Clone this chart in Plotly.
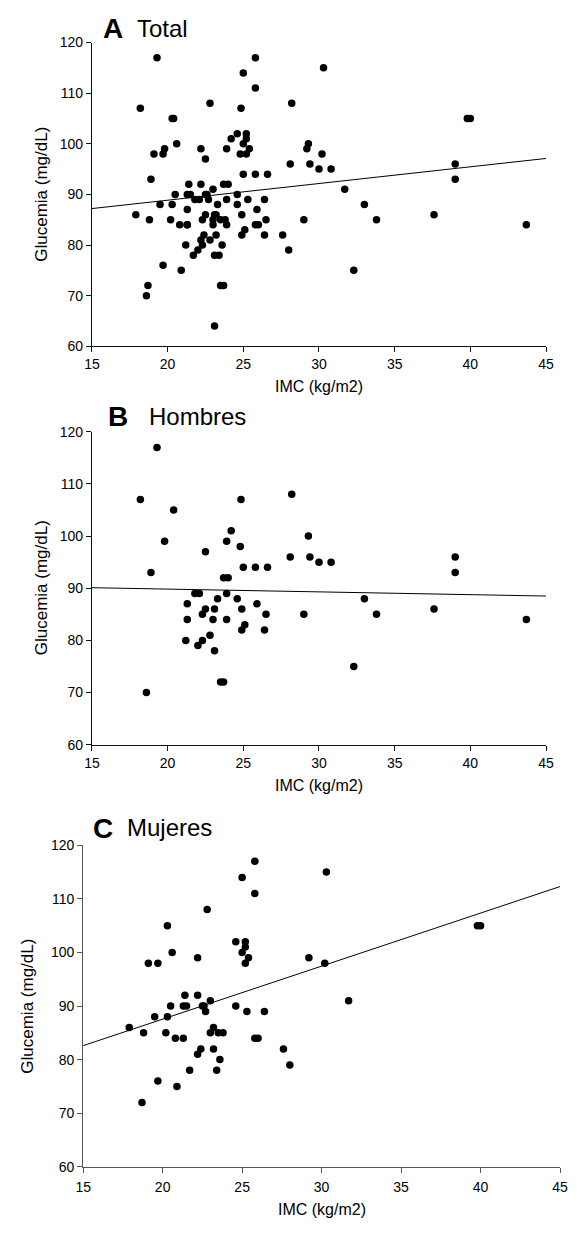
import plotly.graph_objects as go

# ---------------- data ----------------
hombres_imc = [19.3, 18.2, 24.85, 28.2, 20.4, 19.8, 24.2, 23.9, 24.8, 22.5,
               29.3, 28.1, 18.9, 25.0, 25.8, 26.6, 23.7, 24.0, 21.8, 22.1,
               23.9, 23.3, 24.6, 21.3, 25.9, 22.5, 23.1, 24.9, 22.3, 26.5,
               21.3, 23.0, 23.9, 25.1, 24.9, 26.4, 22.8, 21.2, 22.3, 22.0,
               23.1, 23.5, 23.7, 18.6, 29.4, 30.0, 30.8, 39.0, 39.0, 33.0,
               29.0, 33.8, 37.6, 43.7, 32.3]
hombres_glu = [117, 107, 107, 108, 105, 99, 101, 99, 98, 97,
               100, 96, 93, 94, 94, 94, 92, 92, 89, 89,
               89, 88, 88, 87, 87, 86, 86, 86, 85, 85,
               84, 84, 84, 83, 82, 82, 81, 80, 80, 79,
               78, 72, 72, 70, 96, 95, 95, 96, 93, 88,
               85, 85, 86, 84, 75]

mujeres_imc = [25.8, 25.0, 25.8, 22.8, 20.3, 20.6, 19.1, 19.7, 22.2, 24.6,
               25.2, 25.2, 25.0, 25.4, 25.2, 21.4, 22.2, 20.5, 21.3, 21.5,
               22.5, 22.6, 23.0, 22.7, 24.6, 25.3, 26.4, 19.5, 20.3, 17.9,
               23.2, 18.8, 20.2, 23.0, 23.5, 23.8, 20.8, 21.3, 25.8, 26.0,
               22.4, 23.2, 27.6, 22.2, 23.6, 28.0, 21.7, 23.4, 19.7, 20.9,
               18.7, 31.7, 30.3, 29.2, 30.2, 39.8, 40.0]
mujeres_glu = [117, 114, 111, 108, 105, 100, 98, 98, 99, 102,
               102, 101, 100, 99, 98, 92, 92, 90, 90, 90,
               90, 90, 91, 89, 90, 89, 89, 88, 88, 86,
               86, 85, 85, 85, 85, 85, 84, 84, 84, 84,
               82, 82, 82, 81, 80, 79, 78, 78, 76, 75,
               72, 91, 115, 99, 98, 105, 105]

# point visible only in the "Total" panel
solo_total_imc = [23.1]
solo_total_glu = [64]

total_imc = hombres_imc + mujeres_imc + solo_total_imc
total_glu = hombres_glu + mujeres_glu + solo_total_glu

# regression lines (values at IMC = 15 and 45)
fit_imc = [15, 45]
fit_total = [87.2, 97.1]
fit_hombres = [90.1, 88.5]
fit_mujeres = [82.6, 112.3]

panel_letters = ["A", "B", "C"]
panel_names = ["Total", "Hombres", "Mujeres"]
x_ticks = [15, 20, 25, 30, 35, 40, 45]
y_ticks = [60, 70, 80, 90, 100, 110, 120]
x_title = "IMC (kg/m2)"
y_title = "Glucemia (mg/dL)"

# ---------------- layout helpers ----------------
W, H = 580, 1233
FONT = "Liberation Sans, Arial, sans-serif"


def fx(p):
    return p / W


def fy(p):
    return 1 - p / H


panels = [
    dict(x0=86.3, x1=553.3, y0=35.0, y1=342.7, axcol="#111111", standoff=0,
         letter_x=96, letter_y=20.3, name_x=131, name_y=20.5,
         ytitle_x=34.3, xtitle_y=383.3),
    dict(x0=86.3, x1=553.3, y0=429.3, y1=746.4, axcol="#111111", standoff=0,
         letter_x=101, letter_y=414.2, name_x=143, name_y=413.8,
         ytitle_x=34.0, xtitle_y=788.0),
    dict(x0=77.3, x1=567.7, y0=848.3, y1=1174.0, axcol="#555555", standoff=2,
         letter_x=85, letter_y=830.8, name_x=120, name_y=830.0,
         ytitle_x=19.2, xtitle_y=1217.7),
]

data_sets = [(total_imc, total_glu, fit_total),
             (hombres_imc, hombres_glu, fit_hombres),
             (mujeres_imc, mujeres_glu, fit_mujeres)]

fig = go.Figure()
annotations = []
layout = dict(
    width=W, height=H,
    margin=dict(l=0, r=0, t=0, b=0),
    paper_bgcolor="white", plot_bgcolor="white",
    showlegend=False,
    font=dict(family=FONT, color="black", size=14),
)

for i, (p, (xs, ys, fit)) in enumerate(zip(panels, data_sets)):
    n = "" if i == 0 else str(i + 1)
    xa, ya = "x" + n, "y" + n
    fig.add_trace(go.Scatter(
        x=fit_imc, y=fit, mode="lines", xaxis=xa, yaxis=ya,
        line=dict(color="black", width=1), hoverinfo="skip"))
    fig.add_trace(go.Scatter(
        x=xs, y=ys, mode="markers", xaxis=xa, yaxis=ya,
        marker=dict(symbol="circle", size=7.5, color="black",
                    line=dict(width=0))))

    axis_common = dict(showline=True, linecolor=p["axcol"], linewidth=1,
                       ticks="outside", ticklen=5, tickwidth=1,
                       tickcolor=p["axcol"], showgrid=False, zeroline=False,
                       tickfont=dict(family=FONT, size=14, color="black"),
                       fixedrange=True)
    layout["xaxis" + n] = dict(
        domain=[fx(p["x0"]), fx(p["x1"])], anchor=ya,
        range=[15, 45], tickvals=x_ticks, ticktext=[str(v) for v in x_ticks],
        ticklabelstandoff=p["standoff"], **axis_common)
    layout["yaxis" + n] = dict(
        domain=[fy(p["y1"]), fy(p["y0"])], anchor=xa,
        range=[60, 120], tickvals=y_ticks, ticktext=[str(v) for v in y_ticks],
        **axis_common)

    # panel title
    annotations.append(dict(
        text="<b>%s</b>" % panel_letters[i], xref="paper", yref="paper",
        x=fx(p["letter_x"]), y=fy(p["letter_y"]), xanchor="left",
        yanchor="middle", showarrow=False,
        font=dict(family=FONT, size=28, color="black")))
    annotations.append(dict(
        text=panel_names[i], xref="paper", yref="paper",
        x=fx(p["name_x"]), y=fy(p["name_y"]), xanchor="left",
        yanchor="middle", showarrow=False,
        font=dict(family=FONT, size=24, color="black")))
    # axis titles
    annotations.append(dict(
        text=x_title, xref="paper", yref="paper",
        x=fx((p["x0"] + p["x1"]) / 2), y=fy(p["xtitle_y"]),
        xanchor="center", yanchor="middle", showarrow=False,
        font=dict(family=FONT, size=16, color="black")))
    annotations.append(dict(
        text=y_title, xref="paper", yref="paper", textangle=-90,
        x=fx(p["ytitle_x"]), y=fy((p["y0"] + p["y1"]) / 2),
        xanchor="center", yanchor="middle", showarrow=False,
        font=dict(family=FONT, size=17, color="black")))

layout["annotations"] = annotations
fig.update_layout(**layout)
fig.write_html("out.html")
